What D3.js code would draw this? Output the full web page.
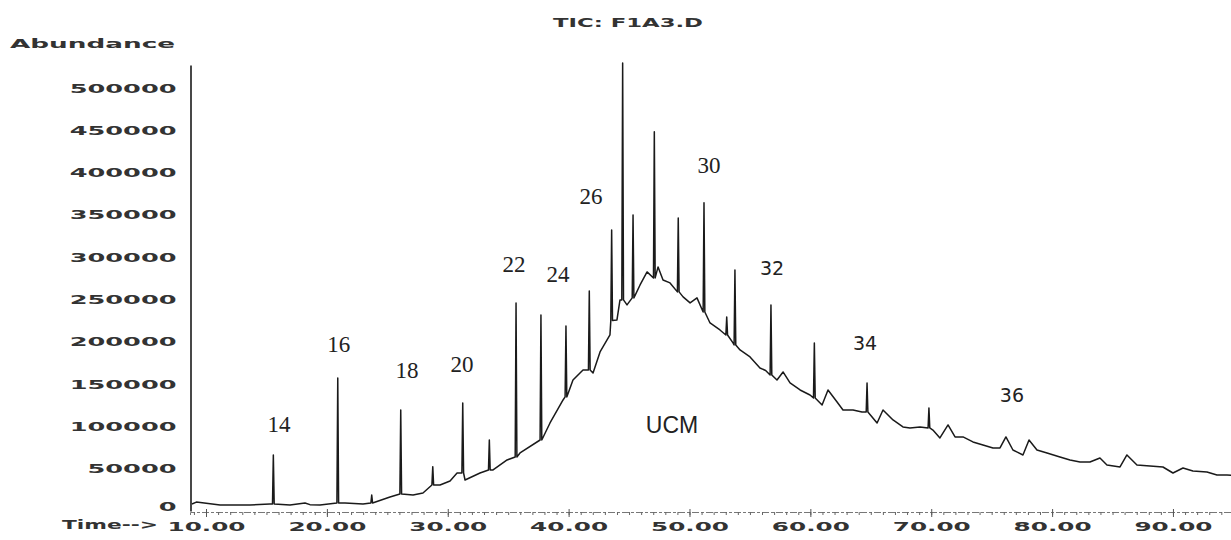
<!DOCTYPE html>
<html><head><meta charset="utf-8">
<script src="https://cdn.jsdelivr.net/npm/d3@7"></script>
<style>body{margin:0;background:#fff}svg{display:block}</style>
</head><body><svg id="c" width="1231" height="540"></svg>
<script>
// ---- data ----
const baseTime = [8.84,9.2,11.16,13.64,15.29,16.95,18.19,18.6,19.43,21.5,22.99,25.22,27.13,27.95,29.36,30.19,30.77,31.43,32.67,33.75,34.91,35.98,37.64,38.46,39.54,40.36,41.19,42.02,42.6,43.42,44.0,44.25,44.83,45.91,46.49,46.98,47.4,47.81,48.39,48.97,49.47,50.05,50.62,51.7,52.52,53.6,54.18,55.01,55.83,56.3,57.24,57.74,58.32,59.15,59.97,60.97,61.46,62.21,62.7,63.53,64.27,65.52,66.01,66.84,67.66,68.24,69.07,70.14,70.72,71.39,71.97,72.63,73.45,74.28,75.11,75.69,76.18,76.76,77.59,78.09,78.75,79.58,80.65,81.48,82.31,83.13,83.96,84.54,85.62,86.19,87.02,88.1,89.17,90.0,90.83,91.65,92.81,93.64,94.47,95.1];
const baseAbund = [8300,10500,7100,7100,8300,7100,9500,7500,7100,9500,8300,16500,18900,21300,30700,35500,44900,36600,44900,48500,60300,68600,86300,104000,131200,154800,166700,163100,188000,208000,225800,249400,243500,267100,282500,273000,288400,273000,269500,261200,253000,245900,251800,222200,213900,198600,190300,182000,169000,166000,154800,164300,151300,143000,137100,125300,143000,128800,119400,119400,117000,104000,119400,107600,99300,98100,99300,95700,86300,101700,87500,87500,81600,78000,74500,74500,87500,72100,66200,83900,72100,68600,63800,60300,57900,57900,62600,54400,52000,66200,54400,53200,52000,44900,50800,47300,46100,42600,42600,42000];
const peakTime = [15.57,20.90,23.71,26.11,28.76,31.24,33.44,35.65,37.71,39.78,41.71,43.56,44.47,45.33,47.09,49.07,51.20,53.08,53.76,56.74,60.33,64.69,69.81];
const peakBase = [8300,9500,9500,20000,30700,44900,48500,63800,83900,134800,166700,225000,249400,251800,275400,258900,235200,208000,196200,160800,133600,117000,98100];
const peakTop  = [66200,157200,18900,119400,52400,127700,83900,245900,231700,218700,260000,332100,529500,349900,448000,346300,364100,229300,284900,243500,198600,151300,121700];
const labelText  = ["14","16","18","20","22","24","26","30","32","34","36","UCM"];
const labelTime  = [16.04,20.99,26.63,31.18,35.48,39.12,41.85,51.61,56.83,64.52,76.68,48.55];
const labelAbund = [93400,187900,157200,164300,282500,270700,362900,399500,279000,190300,128800,92200];
const xTicks = [10,20,30,40,50,60,70,80,90];
const xTickLabels = ["10.00","20.00","30.00","40.00","50.00","60.00","70.00","80.00","90.00"];
const yTicks = [0,50000,100000,150000,200000,250000,300000,350000,400000,450000,500000];
const yTickLabels = ["0","50000","100000","150000","200000","250000","300000","350000","400000","450000","500000"];
const title = "TIC: F1A3.D";
const yTitle = "Abundance";
const xTitle = "Time-->";

// ---- drawing ----
const svg = d3.select("#c");
const x = d3.scaleLinear().domain([8.675, 95]).range([190, 1233.4]);
const y = d3.scaleLinear().domain([0, 527000]).range([511, 65]);
const tickFont = "DejaVu Sans";
const ink = "#1a1a1a";

// title
svg.append("text").attr("x", 628).attr("y", 27).attr("text-anchor", "middle")
  .attr("font-family", tickFont).attr("font-size", 13).attr("font-weight", "bold")
  .attr("fill", "#333").attr("textLength", 150).attr("lengthAdjust", "spacingAndGlyphs").text(title);
svg.append("text").attr("x", 10).attr("y", 48)
  .attr("font-family", tickFont).attr("font-size", 12).attr("font-weight", "bold")
  .attr("fill", "#333").attr("textLength", 165).attr("lengthAdjust", "spacingAndGlyphs").text(yTitle);
svg.append("text").attr("x", 62).attr("y", 529)
  .attr("font-family", tickFont).attr("font-size", 13).attr("font-weight", "bold")
  .attr("fill", "#333").attr("textLength", 96).attr("lengthAdjust", "spacingAndGlyphs").text(xTitle);

// y axis
const yAxis = d3.axisLeft(y).tickValues(yTicks).tickSize(0).tickPadding(14)
  .tickFormat((d, i) => yTickLabels[i]);
const gy = svg.append("g").attr("transform", "translate(190.5,0)").call(yAxis);
gy.select(".domain").attr("stroke", ink).attr("stroke-width", 1.6);
gy.selectAll("text").attr("font-family", tickFont).attr("font-size", 13).attr("font-weight", "bold")
  .attr("fill", "#333")
  .attr("textLength", (d, i) => yTickLabels[i].length * 17.8)
  .attr("lengthAdjust", "spacingAndGlyphs");
gy.selectAll(".tick").filter(d => d === 0).select("text").attr("dy", "-0.05em");

// x axis: minor ticks (dotted look) and labelled major ticks
const minor = d3.range(9, 96, 1);
const gxm = svg.append("g").attr("transform", "translate(0,512)")
  .call(d3.axisBottom(x).tickValues(minor).tickSize(3).tickFormat(""));
gxm.select(".domain").attr("stroke", "#777").attr("stroke-width", 1).attr("stroke-dasharray", "7,2,3,2");
gxm.selectAll(".tick line").attr("stroke", "#666").attr("stroke-width", 1);
const gx = svg.append("g").attr("transform", "translate(0,512)")
  .call(d3.axisBottom(x).tickValues(xTicks).tickSize(5).tickPadding(4).tickFormat((d, i) => xTickLabels[i]));
gx.select(".domain").remove();
gx.selectAll(".tick line").attr("stroke", "#555").attr("y1", -3);
gx.selectAll("text").attr("font-family", tickFont).attr("font-size", 13).attr("font-weight", "bold")
  .attr("fill", "#333").attr("dy", "0.78em")
  .attr("textLength", 78).attr("lengthAdjust", "spacingAndGlyphs");

// trace: baseline points + narrow peaks
const pts = [];
baseTime.forEach((t, i) => {
  if (!peakTime.some(p => Math.abs(p - t) < 0.12)) pts.push([t, baseAbund[i]]);
});
peakTime.forEach((t, i) => {
  pts.push([t - 0.07, peakBase[i]]);
  pts.push([t, peakTop[i]]);
  pts.push([t + 0.07, peakBase[i]]);
});
pts.sort((a, b) => a[0] - b[0]);
const line = d3.line().x(d => x(d[0])).y(d => y(d[1]));
svg.append("path").datum(pts).attr("d", line).attr("fill", "none")
  .attr("stroke", ink).attr("stroke-width", 1.5).attr("stroke-linejoin", "round");

// peak labels
const sansSet = new Set(["32", "34", "36"]);
svg.selectAll("text.lbl").data(labelText).enter().append("text").attr("class", "lbl")
  .attr("x", (d, i) => x(labelTime[i])).attr("y", (d, i) => y(labelAbund[i]))
  .attr("text-anchor", "middle")
  .attr("font-family", d => d === "UCM" ? "Liberation Sans" : (sansSet.has(d) ? "DejaVu Sans" : "Liberation Serif"))
  .attr("font-size", d => d === "UCM" ? 23 : (sansSet.has(d) ? 19 : 23))
  .attr("fill", "#222").text(d => d);
</script></body></html>
